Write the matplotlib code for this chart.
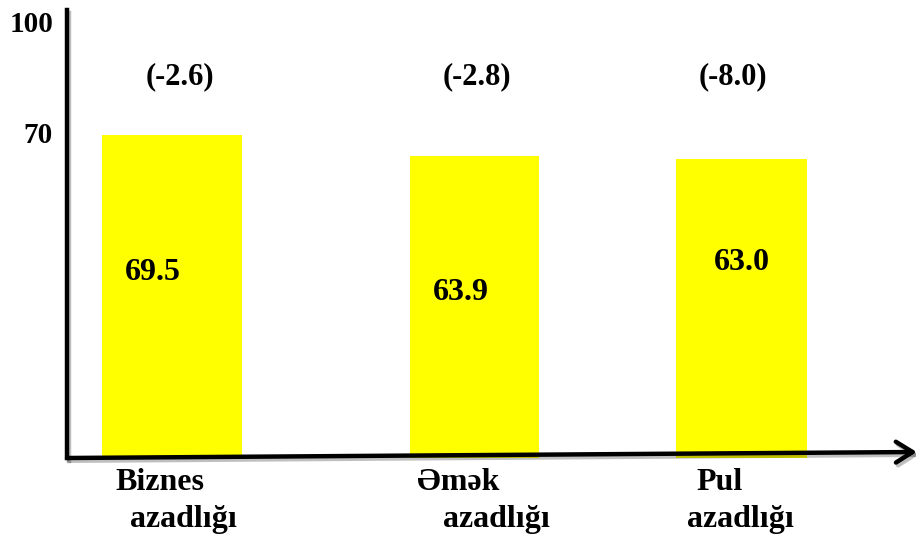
import numpy as np
import matplotlib.pyplot as plt
import matplotlib.patheffects as pe

# Economic freedom sub-indices (score) and change vs. previous year
categories = ['Biznes', 'Əmək', 'Pul']
second_line = ['azadlığı', 'azadlığı', 'azadlığı']
values = [69.5, 63.9, 63.0]
changes = ['(-2.6)', '(-2.8)', '(-8.0)']
yticks = [70, 100]

# layout (x units ~ 100 px)
xpos = np.array([1.05, 4.075, 6.745])
widths = [1.40, 1.29, 1.31]
base = -17.8
val_dx = [-0.19, -0.135, 0.0]
val_y = [32.2, 27.0, 35.1]
chg_dx = [0.08, 0.025, -0.085]
cat_dx = [(-0.57, -0.42), (-0.57, -0.32), (-0.45, -0.54)]

plt.rcParams['font.family'] = ['Liberation Serif', 'DejaVu Serif']
plt.rcParams['font.weight'] = 'bold'

fig = plt.figure(figsize=(9.16, 5.36), dpi=100)
ax = fig.add_axes([67 / 916, 78 / 536, 843 / 916, 448 / 536])

ax.bar(xpos, np.array(values) - base, bottom=base, width=widths,
       color='#ffff00', edgecolor='none')

ax.set_xlim(0, 8.43)
ax.set_ylim(base, 103.2)
ax.set_xticks([])
ax.set_yticks(yticks)
ax.set_yticklabels([str(t) for t in yticks], fontsize=21, fontweight='bold')
ax.tick_params(axis='y', length=0, pad=10)

for s in ['top', 'right', 'bottom']:
    ax.spines[s].set_visible(False)
shadow = [pe.SimpleLineShadow(offset=(1.5, -2), shadow_color='k', alpha=0.25), pe.Normal()]
ax.spines['left'].set_linewidth(3.2)
ax.spines['left'].set_path_effects(shadow)

# x axis as an arrow, rising slightly to the right
arr = ax.annotate('', xy=(1.008, 0.0134), xytext=(0, 0),
                  xycoords='axes fraction', textcoords='axes fraction',
                  arrowprops=dict(arrowstyle='->,head_length=1.2,head_width=0.75',
                                  lw=3.2, color='k', shrinkA=0, shrinkB=0))
arr.arrow_patch.set_path_effects(shadow)
arr.arrow_patch.set_clip_on(False)

for i in range(len(values)):
    ax.text(xpos[i] + val_dx[i], val_y[i], f'{values[i]:.1f}', ha='center', va='center',
            fontsize=23, fontweight='bold')
    ax.text(xpos[i] + chg_dx[i], 85.1, changes[i], ha='center', va='center',
            fontsize=22, fontweight='bold')
    ax.text(xpos[i] + cat_dx[i][0], -0.055, categories[i], transform=ax.get_xaxis_transform(),
            ha='left', va='center', fontsize=23, fontweight='bold')
    ax.text(xpos[i] + cat_dx[i][1], -0.138, second_line[i], transform=ax.get_xaxis_transform(),
            ha='left', va='center', fontsize=23, fontweight='bold')

fig.savefig('out.png', dpi=100)
